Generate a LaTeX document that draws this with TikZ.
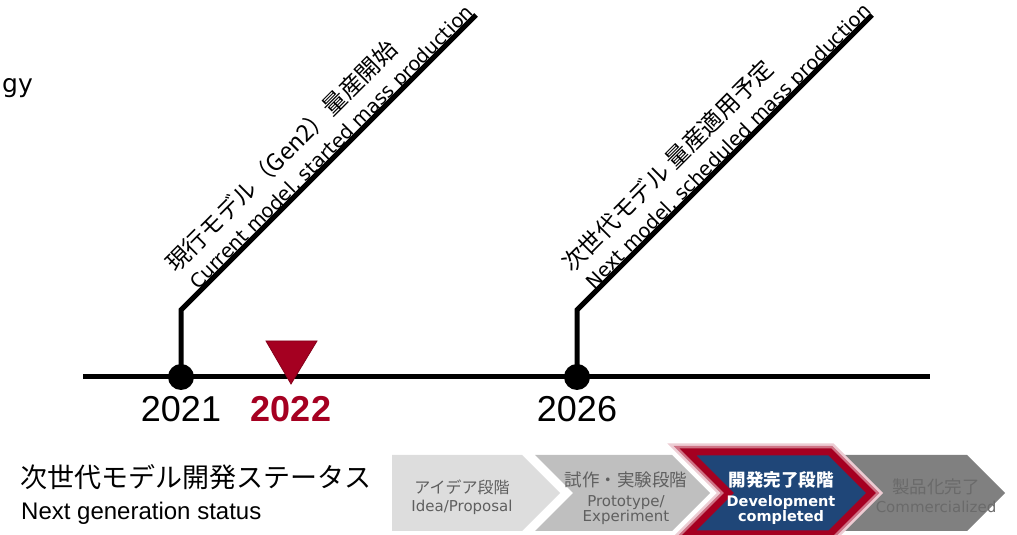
\documentclass[tikz,border=0pt]{standalone}
\usepackage{fontspec}
\setmainfont{Liberation Sans}
\newfontfamily\jpfont{Noto Sans CJK JP}
\newfontfamily\mfont{DejaVu Sans}
\definecolor{marker red}{HTML}{A50021}
\definecolor{stage blue}{HTML}{1F4678}
\definecolor{stage light}{HTML}{DDDDDD}
\definecolor{stage mid}{HTML}{BFBFBF}
\definecolor{stage dark}{HTML}{808080}
\definecolor{stage text}{HTML}{5F5F5F}
\definecolor{stage text dark}{HTML}{6A6A6A}
\tikzset{
  timeline/.style={line width=5pt},
  year dot/.style={circle, fill=black, minimum size=26pt, inner sep=0pt},
  year label/.style={anchor=base, inner sep=0pt, font=\fontsize{36}{36}\selectfont},
  note jp/.style={anchor=base west, rotate=45, inner sep=0pt, font=\jpfont\fontsize{23.5}{23.5}\selectfont},
  note en/.style={anchor=base west, rotate=45, inner sep=0pt, font=\mfont\fontsize{19.5}{19.5}\selectfont},
  stage jp/.style={anchor=base, inner sep=0pt, font=\jpfont\fontsize{17.5}{17.5}\selectfont},
  stage en/.style={anchor=base, inner sep=0pt, font=\mfont\fontsize{15}{15}\selectfont},
  stage bold/.style={anchor=base, inner sep=0pt, text=white, font=\mfont\bfseries\fontsize{14.5}{14.5}\selectfont},
}
\begin{document}
\begin{tikzpicture}[x=1pt,y=1pt]
\useasboundingbox (0,0) rectangle (1017,535);
% Resto del titolo
\node[anchor=base west, inner sep=0pt, font=\mfont\fontsize{25}{25}\selectfont](node gy) at (2,442){gy};

% Linea del tempo
\coordinate (line start) at (83,158);
\coordinate (line end) at (930,158);
\draw[timeline](line start)--(line end);

% Nodi anni
\draw(181,158)node[year dot](node 2021){}
     (577,158)node[year dot](node 2026){};

% Etichette anni
\node[year label](label 2021) at (181,113){2021};
\node[year label, text=marker red, font=\bfseries\fontsize{36}{36}\selectfont](label 2022) at (291,113){2022};
\node[year label](label 2026) at (577,113){2026};

% Marcatore oggi
\coordinate (marker a) at (266,194);
\coordinate (marker b) at (317,194);
\coordinate (marker tip) at (291,151);
\filldraw[fill=marker red, draw=marker red!80!black, line width=0.8pt](marker a)--(marker b)--(marker tip)--cycle;

% Linee di richiamo
\coordinate (bend 2021) at (181,225);
\coordinate (top 2021) at (476,520);
\coordinate (bend 2026) at (577,225);
\coordinate (top 2026) at (872,520);
\draw[timeline](node 2021.center)--(bend 2021)--(top 2021);
\draw[timeline](node 2026.center)--(bend 2026)--(top 2026);

% Note ruotate
\begin{scope}[shift={(bend 2021)}, rotate=45]
\node[note en](note 2021 en) at (26,2){Current model, started mass production};
\node[note jp](note 2021 jp) at (22,29){現行モデル（Gen2）量産開始};
\end{scope}
\begin{scope}[shift={(bend 2026)}, rotate=45]
\node[note en](note 2026 en) at (26,2){Next model, scheduled mass production};
\node[note jp](note 2026 jp) at (22,29){次世代モデル 量産適用予定};
\end{scope}

% Titolo stato
\node[anchor=base west, inner sep=0pt, font=\jpfont\fontsize{27}{27}\selectfont](title jp) at (20,47){次世代モデル開発ステータス};
\node[anchor=base west, inner sep=0pt, font=\fontsize{24}{24}\selectfont](title en) at (21,15){Next generation status};

% Fase 1
\fill[stage light](392,80)--(522,80)--(560,42)--(522,4)--(392,4)--cycle;
% Fase 2
\fill[stage mid](535,80)--(672,80)--(710,42)--(672,4)--(535,4)--(573,42)--cycle;
% Fase 4
\fill[stage dark](840,80)--(967,80)--(1005,42)--(967,4)--(840,4)--(878,42)--cycle;
% Fase 3 con bordo
\draw[marker red!20, line width=17pt](688,83)--(830,83)--(871,42)--(830,1)--(688,1)--(729,42)--cycle;
\draw[marker red!55, line width=12pt](688,83)--(830,83)--(871,42)--(830,1)--(688,1)--(729,42)--cycle;
\draw[fill=stage blue, draw=marker red, line width=7pt](688,83)--(830,83)--(871,42)--(830,1)--(688,1)--(729,42)--cycle;

% Testi fasi
\node[stage jp, text=stage text, font=\jpfont\fontsize{16}{16}\selectfont](stage 1 jp) at (462,41.5){アイデア段階};
\node[stage en, text=stage text](stage 1 en) at (462,23){Idea/Proposal};
\node[stage jp, text=stage text](stage 2 jp) at (626,48){試作・実験段階};
\node[stage en, text=stage text](stage 2 en) at (626,28){Prototype/};
\node[stage en, text=stage text](stage 2 en b) at (626,13){Experiment};
\node[stage jp, text=white, font=\jpfont\bfseries\fontsize{17.5}{17.5}\selectfont](stage 3 jp) at (781,48){開発完了段階};
\node[stage bold](stage 3 en) at (781,28){Development};
\node[stage bold](stage 3 en b) at (781,13){completed};
\node[stage jp, text=stage text dark](stage 4 jp) at (936,41){製品化完了};
\node[stage en, text=stage text dark](stage 4 en) at (936,22){Commercialized};
\end{tikzpicture}
\end{document}
